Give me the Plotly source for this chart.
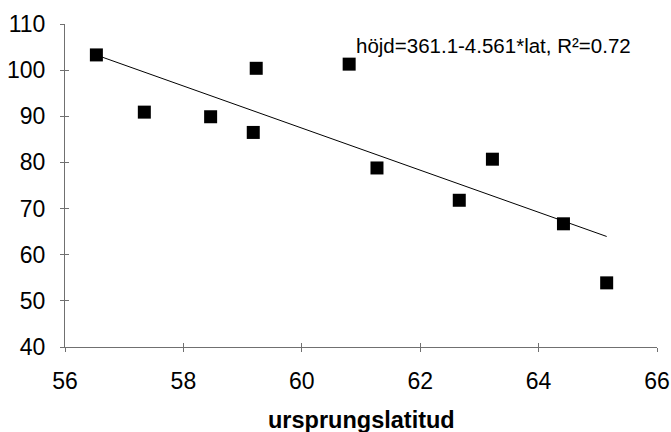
import plotly.graph_objects as go

# Origin latitude vs. height
lat = [56.53, 57.34, 58.46, 59.18, 59.23, 60.80, 61.27, 62.66, 63.22, 64.42, 65.15]
height = [103.3, 90.9, 89.9, 86.5, 100.4, 101.3, 78.8, 71.8, 80.7, 66.7, 53.9]

# Fitted regression: höjd = 361.1 - 4.561 * lat
intercept = 361.1
slope = -4.561
fit_x = [min(lat), max(lat)]
fit_y = [intercept + slope * v for v in fit_x]

x_ticks = [56, 58, 60, 62, 64, 66]
y_ticks = [40, 50, 60, 70, 80, 90, 100, 110]

FONT = "Liberation Sans, Arial, sans-serif"
AXIS_COLOR = "#707070"

fig = go.Figure()
fig.add_trace(go.Scatter(
    x=fit_x, y=fit_y, mode="lines",
    line=dict(color="black", width=1), showlegend=False, hoverinfo="skip",
))
fig.add_trace(go.Scatter(
    x=lat, y=height, mode="markers",
    marker=dict(symbol="square", size=13, color="black"),
    showlegend=False,
))
# invisible trace so the overlay axes (inner half of the crossing ticks) render
fig.add_trace(go.Scatter(
    x=[x_ticks[0]], y=[y_ticks[0]], xaxis="x2", yaxis="y2",
    mode="markers", marker=dict(opacity=0), showlegend=False, hoverinfo="skip",
))

common = dict(showgrid=False, zeroline=False, linecolor=AXIS_COLOR, linewidth=1,
              tickcolor=AXIS_COLOR, tickwidth=1, ticklen=4, automargin=False)

fig.update_layout(
    width=671, height=432,
    margin=dict(l=65, r=14, t=24, b=85),
    paper_bgcolor="white", plot_bgcolor="white",
    font=dict(family=FONT, color="black"),
    xaxis=dict(range=[56, 66], tickvals=x_ticks, ticks="outside", showline=True,
               tickfont=dict(size=23), ticklabelstandoff=9, **common),
    yaxis=dict(range=[40, 110], tickvals=y_ticks, ticks="outside", showline=True,
               tickfont=dict(size=23), ticklabelstandoff=10, **common),
    xaxis2=dict(range=[56, 66], tickvals=x_ticks, ticks="inside", overlaying="x",
                showticklabels=False, showline=False, anchor="y2", **common),
    yaxis2=dict(range=[40, 110], tickvals=y_ticks, ticks="inside", overlaying="y",
                showticklabels=False, showline=False, anchor="x2", **common),
    annotations=[
        dict(
            x=60.88, y=105.4, xref="x", yref="y", xanchor="left", showarrow=False,
            text="höjd=361.1-4.561*lat, R²=0.72",
            font=dict(size=20.5, family=FONT, color="black"),
        ),
        # x-axis title
        dict(
            x=0.5, y=-0.225, xref="paper", yref="paper", xanchor="center",
            yanchor="middle", showarrow=False,
            text="<b>ursprungslatitud</b>",
            font=dict(size=23.5, family=FONT, color="black"),
        ),
    ],
)

fig.write_html("out.html")
